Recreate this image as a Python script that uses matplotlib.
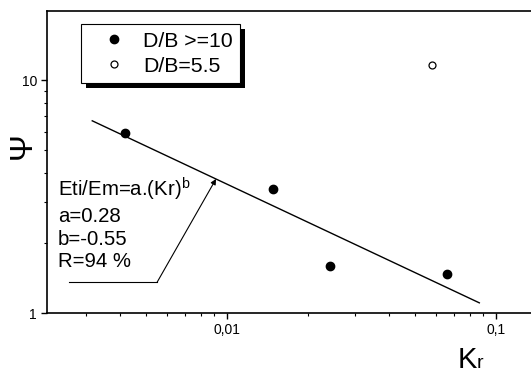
import matplotlib
matplotlib.use("Agg")
import matplotlib.pyplot as plt
import matplotlib.ticker as mticker
import matplotlib.patheffects as pe

plt.rcParams['font.family'] = ['Liberation Sans', 'DejaVu Sans']

# dados
kr_big = [0.00419, 0.0149, 0.0242, 0.0659]     # D/B >= 10
psi_big = [5.96, 3.41, 1.60, 1.475]
kr_small = [0.0578]                             # D/B = 5.5
psi_small = [11.55]
fit_kr = [0.00316, 0.0869]                      # reta de ajuste (extremos)
fit_psi = [6.69, 1.11]

fig = plt.figure(figsize=(5.31, 3.74), dpi=100)
# eixo estendido para além da borda direita (como no original, cortado)
ax = fig.add_axes([0.088, 0.162, 0.998, 0.809])

ax.plot(kr_big, psi_big, 'o', color='black', markersize=6, label='D/B >=10')
ax.plot(kr_small, psi_small, 'o', markerfacecolor='white', markeredgecolor='black',
        markersize=5, markeredgewidth=0.9, label='D/B=5.5')
ax.plot(fit_kr, fit_psi, '-', color='black', linewidth=1)

ax.set_xscale('log')
ax.set_yscale('log')
ax.set_xlim(0.00214, 0.2)
ax.set_ylim(1, 19.8)

ax.spines['right'].set_visible(False)
for s in ax.spines.values():
    s.set_linewidth(1.2)

ax.xaxis.set_major_locator(mticker.FixedLocator([0.01, 0.1]))
ax.xaxis.set_major_formatter(mticker.FixedFormatter(['0,01', '0,1']))
ax.xaxis.set_minor_locator(mticker.LogLocator(base=10, subs=range(2, 10)))
ax.xaxis.set_minor_formatter(mticker.NullFormatter())
ax.yaxis.set_major_locator(mticker.FixedLocator([1, 10]))
ax.yaxis.set_major_formatter(mticker.FixedFormatter(['1', '10']))
ax.yaxis.set_minor_locator(mticker.LogLocator(base=10, subs=range(2, 10)))
ax.yaxis.set_minor_formatter(mticker.NullFormatter())
ax.tick_params(which='major', direction='out', length=4, width=1, labelsize=10, pad=3)
ax.tick_params(which='minor', direction='out', length=2.5, width=0.8)
ax.tick_params(top=False, right=False)

leg = ax.legend(loc='upper left', bbox_to_anchor=(0.064, 0.956), borderaxespad=0,
                fontsize=15.3, fancybox=False, edgecolor='black', framealpha=1,
                borderpad=0.35, handlelength=2.45, handletextpad=0.15, labelspacing=0.28,
                numpoints=1)
leg.get_frame().set_linewidth(0.8)
leg.get_frame().set_path_effects([
    pe.SimplePatchShadow(offset=(3.6, -3.6), shadow_rgbFace='black', alpha=1),
    pe.Normal()])

# anotação da regressão
txt = 'Eti/Em=a.(Kr)$^\\mathregular{b}$\na=0.28\nb=-0.55\nR=94 %'
ax.annotate('', xy=(0.00912, 3.77), xytext=(0.00551, 1.362),
            arrowprops=dict(arrowstyle='-|>', color='black', lw=0.8,
                            mutation_scale=8, shrinkA=0, shrinkB=0))
ax.plot([0.00259, 0.00551], [1.362, 1.362], color='black', lw=0.8)
ax.text(0.00236, 3.88, txt, fontsize=14.7, va='top', ha='left', linespacing=1.25)

fig.text(23 / 531, 1 - 146 / 374, '\u03a8', fontsize=23, rotation=90,
         ha='center', va='center')
fig.text(458 / 531, 1 - 368 / 374, 'K', fontsize=21, ha='left', va='baseline')
fig.text(477 / 531, 1 - 368 / 374, 'r', fontsize=14, ha='left', va='baseline')

fig.savefig('out.png', dpi=100)
